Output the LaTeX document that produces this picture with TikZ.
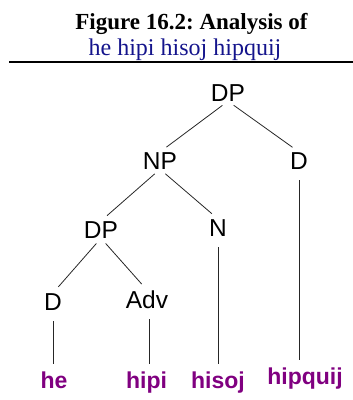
\documentclass[tikz,border=0pt]{standalone}
\usepackage{fontspec}
\setmainfont{Liberation Serif}
\setsansfont{Liberation Sans}
\definecolor{titleblue}{RGB}{20,20,140}
\definecolor{leafpurple}{RGB}{128,0,128}
\begin{document}
\frenchspacing
\begin{tikzpicture}[x=1pt,y=-1pt,
  cat/.style={anchor=base,inner sep=0pt,font=\sffamily\fontsize{24.5}{27}\selectfont},
  leaf/.style={anchor=base,inner sep=0pt,text=leafpurple,font=\sffamily\bfseries\fontsize{23}{26}\selectfont},
  branch/.style={line width=0.8pt,black!85,shorten <=7pt,shorten >=8pt},
  stem/.style={line width=0.8pt,black!85,shorten <=11pt,shorten >=7pt}]
\useasboundingbox (0,0) rectangle (353,400);
% title
\node[anchor=base,inner sep=0pt,font=\bfseries\fontsize{23}{26}\selectfont] (t1) at (191.5,29) {Figure 16.2: Analysis of};
\node[anchor=base,inner sep=0pt,text=titleblue,font=\fontsize{24}{26}\selectfont] (t2) at (185,55) {he hipi hisoj hipquij};
\coordinate (rl) at (9,62);
\coordinate (rr) at (353,62);
\draw[line width=2.2pt] (rl) -- (rr);
% tree
\node[cat] (dp) at (228,101) {DP};
\node[cat] (np) at (160,169) {NP};
\node[cat] (dr) at (299,169) {D};
\node[cat] (dp2) at (101,238) {DP};
\node[cat] (n) at (218,236) {N};
\node[cat] (dl) at (53,310) {D};
\node[cat] (adv) at (147,308) {Adv};
% leaves
\node[leaf] (he) at (54,388) {he};
\node[leaf] (hipi) at (146.5,388) {hipi};
\node[leaf] (hisoj) at (218,388) {hisoj};
\node[leaf] (hq) at (305,384) {hipquij};
% branches
\draw[branch] (dp.south) -- (np.north);
\draw[branch] (dp.south) -- (dr.north);
\draw[branch] (np.south) -- (dp2.north);
\draw[branch] (np.south) -- (n.north);
\draw[branch] (dp2.south) -- (dl.north);
\draw[branch] (dp2.south) -- (adv.north);
% stems
\draw[stem] (dl.south) -- (dl.south |- he.north);
\draw[stem] ([xshift=2pt]adv.south) -- ([xshift=2pt]adv.south |- hipi.north);
\draw[stem] (n.south) -- (n.south |- hisoj.north);
\draw[stem] (dr.south) -- (dr.south |- hq.north);
\end{tikzpicture}
\end{document}
